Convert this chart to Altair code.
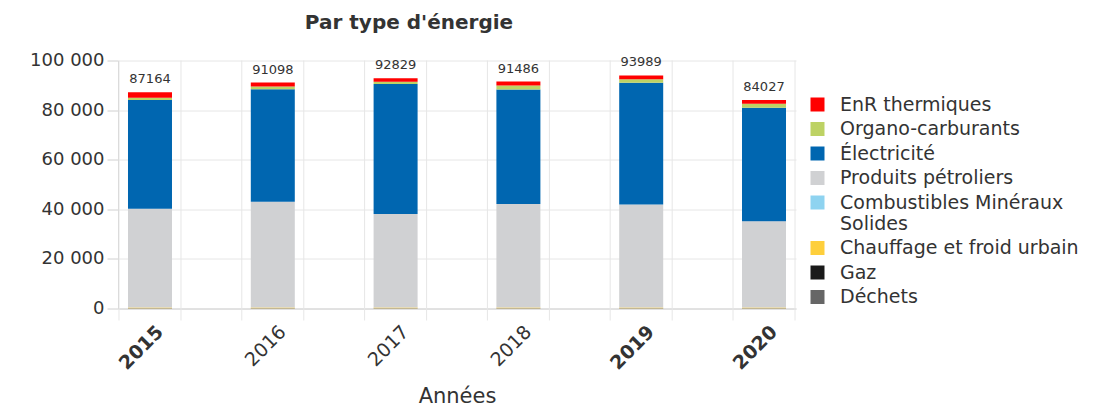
import altair as alt
import pandas as pd

years = ["2015", "2016", "2017", "2018", "2019", "2020"]
bold_years = ["2015", "2019", "2020"]
totals = [87164, 91098, 92829, 91486, 93989, 84027]

# series, bottom of stack first
categories = ["Déchets", "Gaz", "Chauffage et froid urbain", "Combustibles Minéraux Solides",
              "Produits pétroliers", "Électricité", "Organo-carburants", "EnR thermiques"]
colors = ["#666666", "#1a1a1a", "#fecf3c", "#8ed3f0",
          "#d0d1d3", "#0066b0", "#bdd264", "#ff0000"]

dechets = [50, 50, 50, 50, 50, 50]
gaz = [100, 100, 100, 100, 100, 100]
chauffage = [250, 250, 250, 250, 250, 250]
cms = [50, 50, 50, 50, 50, 50]
petrole = [39750, 42550, 37650, 41650, 41450, 34750]
elec = [43864, 45448, 52429, 46186, 49089, 45727]
organo = [900, 1050, 930, 1600, 1500, 1600]
enr = [2200, 1600, 1370, 1600, 1500, 1500]

series = [dechets, gaz, chauffage, cms, petrole, elec, organo, enr]
rows = []
for ci, (cat, vals) in enumerate(zip(categories, series)):
    for y, v in zip(years, vals):
        rows.append({"year": y, "cat": cat, "value": v, "idx": ci})
df = pd.DataFrame(rows)
tot_df = pd.DataFrame({"year": years, "total": totals})

FONT = "DejaVu Sans"
W, H = 678, 248

legend_order = list(reversed(categories))
legend_colors = list(reversed(colors))

xscale = alt.Scale(paddingInner=0.6417, paddingOuter=0.0814)
xenc = alt.X("year:N", scale=xscale, sort=years,
             axis=alt.Axis(title="Années", labelAngle=315, labelFontSize=19,
                           labelFont=FONT, labelColor="#333333",
                           labelFontWeight={"condition": {"test": "indexof(" + str(bold_years) + ", datum.value) >= 0",
                                                          "value": "bold"}, "value": "normal"},
                           ticks=False, grid=False, domain=True, domainColor="#d0d0d0",
                           labelPadding=20, labelOffset=10, titleFont=FONT, titleFontSize=21,
                           titleFontWeight="normal", titleColor="#333333", titlePadding=13))

bars = alt.Chart(df).mark_bar().encode(
    x=xenc,
    y=alt.Y("sum(value):Q", scale=alt.Scale(domain=[0, 100000]),
            axis=alt.Axis(title=None, values=[0, 20000, 40000, 60000, 80000, 100000],
                          labelExpr="replace(format(datum.value, ','), ',', ' ')",
                          labelFont=FONT, labelFontSize=18, labelColor="#333333",
                          gridColor="#e6e6e6", domainColor="#d0d0d0", tickColor="#d0d0d0",
                          tickSize=11, labelPadding=3)),
    color=alt.Color("cat:N", scale=alt.Scale(domain=legend_order, range=legend_colors),
                    legend=alt.Legend(title=None, orient="none", legendX=690, legendY=34.5,
                                      symbolType="square", symbolSize=196, symbolStrokeWidth=0,
                                      labelFont=FONT, labelFontSize=19, labelColor="#333333",
                                      labelOffset=13, rowPadding=4.5, labelLimit=400,
                                      labelExpr="datum.label == 'Combustibles Minéraux Solides' ? ['Combustibles Minéraux', 'Solides'] : datum.label")),
    order=alt.Order("idx:Q", sort="ascending"),
)

rules_l = alt.Chart(tot_df).mark_rule(color="#e6e6e6", strokeWidth=1, xOffset=-9).encode(
    x=alt.X("year:N", scale=xscale, sort=years, bandPosition=0),
    y=alt.value(0), y2=alt.value(H + 12))
rules_r = alt.Chart(tot_df).mark_rule(color="#e6e6e6", strokeWidth=1, xOffset=9).encode(
    x=alt.X("year:N", scale=xscale, sort=years, bandPosition=1),
    y=alt.value(0), y2=alt.value(H + 12))

labels = alt.Chart(tot_df).mark_text(font=FONT, fontSize=13, color="#333333",
                                     baseline="alphabetic", dy=-9).encode(
    x=alt.X("year:N", scale=xscale, sort=years),
    y=alt.Y("total:Q"),
    text=alt.Text("total:Q", format="d"))

chart = alt.layer(rules_l, rules_r, bars, labels).properties(
    width=W, height=H,
    title=alt.TitleParams("Par type d'énergie", font=FONT, fontSize=20, fontWeight="bold",
                          color="#333333", anchor="middle", dx=-48, offset=19),
    autosize=alt.AutoSizeParams(type="none"),
    padding={"left": 110, "top": 52.5, "right": 304, "bottom": 99.5},
).configure_view(stroke=None)

chart.save("out.html", embed_options={"renderer": "svg", "actions": False})
